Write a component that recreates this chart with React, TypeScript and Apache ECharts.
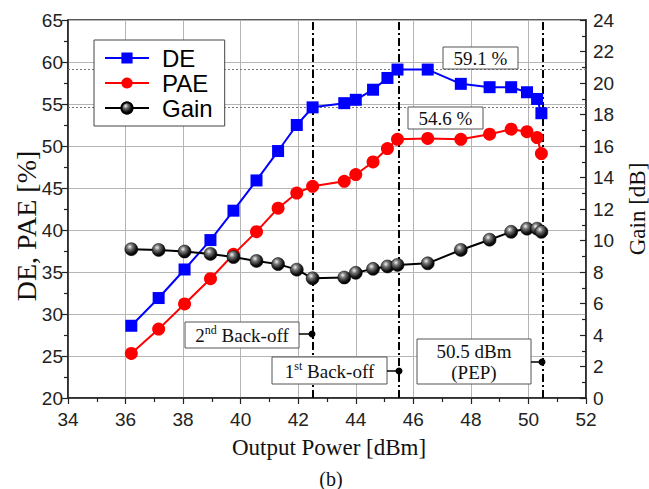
import React, { useEffect, useRef } from "react";
import * as echarts from "echarts";

const outputPower = [36.2, 37.15, 38.05, 38.95, 39.75, 40.55, 41.3, 41.95, 42.5, 43.6, 44.0, 44.6, 45.1, 45.45, 46.5, 47.65, 48.65, 49.4, 49.95, 50.3, 50.45];
const deValues = [28.6, 31.9, 35.3, 38.8, 42.3, 45.9, 49.4, 52.5, 54.6, 55.1, 55.5, 56.7, 58.1, 59.1, 59.1, 57.4, 57.0, 57.0, 56.4, 55.6, 53.9];
const paeValues = [25.3, 28.2, 31.2, 34.2, 37.1, 39.8, 42.6, 44.4, 45.2, 45.8, 46.6, 48.1, 49.7, 50.8, 50.9, 50.8, 51.4, 52.0, 51.7, 51.0, 49.1];
const gainValues = [9.45, 9.4, 9.3, 9.15, 8.95, 8.7, 8.5, 8.15, 7.6, 7.65, 7.95, 8.2, 8.35, 8.45, 8.55, 9.4, 10.05, 10.55, 10.75, 10.75, 10.55];
const backOffLines = [42.5, 45.5, 50.5];
const efficiencyMarks = [59.1, 54.6];

const SANS = "'Liberation Sans', Arial, sans-serif";
const SERIF = "'Liberation Serif', 'Times New Roman', serif";

function pairs(ys: number[]) {
  return outputPower.map((x, i) => [x, ys[i]]);
}

function box(x: number, y: number, w: number, h: number) {
  return {
    type: "rect",
    shape: { x, y, width: w, height: h },
    style: { fill: "#fff", stroke: "#555", lineWidth: 1 },
    z: 100,
  };
}

function connector(x1: number, x2: number, y: number) {
  return [
    { type: "line", shape: { x1, y1: y, x2, y2: y }, style: { stroke: "#000", lineWidth: 1.5 }, z: 100 },
    { type: "circle", shape: { cx: x2, cy: y, r: 3.5 }, style: { fill: "#000" }, z: 101 },
  ];
}

function txt(text: string, x: number, y: number, size: number, extra: any = {}) {
  return {
    type: "text",
    x,
    y,
    z: 102,
    style: { text, fontFamily: SERIF, fontSize: size, fill: "#111", align: "center", verticalAlign: "middle", ...extra },
  };
}

export default function App() {
  const ref = useRef<HTMLDivElement>(null);
  useEffect(() => {
    if (!ref.current) return;
    const chart = echarts.init(ref.current, undefined, { renderer: "svg" });
    const sphere = new echarts.graphic.RadialGradient(0.38, 0.32, 0.7, [
      { offset: 0, color: "#f4f4f4" },
      { offset: 0.3, color: "#777" },
      { offset: 0.75, color: "#111" },
      { offset: 1, color: "#000" },
    ]);
    const supRich = {
      a: { fontFamily: SERIF, fontSize: 19, fill: "#111", lineHeight: 22 },
      s: { fontFamily: SERIF, fontSize: 12, fill: "#111", lineHeight: 22, verticalAlign: "top", padding: [0, 0, 8, 0] },
    };
    const tickLabel = { fontFamily: SANS, fontSize: 19, color: "#222" };
    chart.setOption({
      animation: false,
      backgroundColor: "#fff",
      grid: {
        left: 68,
        right: 63,
        top: 20,
        bottom: 91,
        show: true,
        borderColor: "#222",
        borderWidth: 1.5,
        outerBoundsMode: "none",
      },
      legend: {
        orient: "vertical",
        left: 94,
        top: 40,
        padding: [6, 12, 6, 10],
        itemGap: 1,
        itemWidth: 44,
        itemHeight: 14,
        borderColor: "#444",
        borderWidth: 1,
        backgroundColor: "#fff",
        textStyle: { fontFamily: SANS, fontSize: 24, color: "#000", lineHeight: 24, padding: [0, 0, 0, 8] },
        data: ["DE", "PAE", "Gain"],
        z: 20,
      },
      xAxis: {
        type: "value",
        min: 34,
        max: 52,
        interval: 2,
        axisLine: { show: true, lineStyle: { color: "#222", width: 1.5 } },
        axisTick: { show: true, length: 6, lineStyle: { color: "#222", width: 1.2 } },
        minorTick: { show: true, splitNumber: 2, length: 4, lineStyle: { color: "#222", width: 1.2 } },
        splitLine: { show: true, lineStyle: { color: "#b5b5b5", width: 1 } },
        axisLabel: { ...tickLabel, margin: 12 },
      },
      yAxis: [
        {
          type: "value",
          min: 20,
          max: 65,
          interval: 5,
          axisLine: { show: true, lineStyle: { color: "#222", width: 1.5 } },
          axisTick: { show: true, length: 6, lineStyle: { color: "#222", width: 1.2 } },
          minorTick: { show: true, splitNumber: 2, length: 4, lineStyle: { color: "#222", width: 1.2 } },
          splitLine: { show: true, lineStyle: { color: "#b5b5b5", width: 1 } },
          axisLabel: { ...tickLabel, margin: 5 },
        },
        {
          type: "value",
          min: 0,
          max: 24,
          interval: 2,
          position: "right",
          axisLine: { show: true, lineStyle: { color: "#222", width: 1.5 } },
          axisTick: { show: true, inside: true, length: 6, lineStyle: { color: "#222", width: 1.2 } },
          minorTick: { show: true, splitNumber: 2, length: 4, lineStyle: { color: "#222", width: 1.2 } },
          splitLine: { show: false },
          axisLabel: { ...tickLabel, margin: 7 },
        },
      ],
      series: [
        {
          name: "DE",
          type: "line",
          yAxisIndex: 0,
          data: pairs(deValues),
          symbol: "rect",
          symbolSize: 12,
          lineStyle: { color: "#0000ff", width: 2 },
          itemStyle: { color: "#0000ff" },
          z: 5,
          markLine: {
            silent: true,
            symbol: "none",
            label: { show: false },
            z: 3,
            data: [
              ...backOffLines.map((v) => ({
                xAxis: v,
                lineStyle: { color: "#000", width: 2, type: [8, 3, 2, 3] },
              })),
              ...efficiencyMarks.map((v) => ({
                yAxis: v,
                lineStyle: { color: "#777", width: 1, type: [2, 2] },
              })),
            ],
          },
        },
        {
          name: "PAE",
          type: "line",
          yAxisIndex: 0,
          data: pairs(paeValues),
          symbol: "circle",
          symbolSize: 13,
          lineStyle: { color: "#ff0000", width: 2 },
          itemStyle: { color: "#ff0000" },
          z: 5,
        },
        {
          name: "Gain",
          type: "line",
          yAxisIndex: 1,
          data: pairs(gainValues),
          symbol: "circle",
          symbolSize: 13,
          lineStyle: { color: "#000", width: 2 },
          itemStyle: { color: sphere, borderColor: "#000", borderWidth: 0.5 },
          z: 5,
        },
      ],
      graphic: [
        txt("Output Power [dBm]", 329, 447, 23),
        txt("(b)", 331, 479, 20),
        { ...txt("DE, PAE [%]", 26, 226, 28), rotation: Math.PI / 2 },
        { ...txt("Gain [dB]", 637, 209, 23), rotation: Math.PI / 2 },
        box(443, 47, 75, 22),
        txt("59.1 %", 480.5, 58.5, 19),
        box(408, 107, 75, 22),
        txt("54.6 %", 445.5, 118.5, 19),
        box(185, 322, 114, 26),
        ...connector(299, 312, 334),
        {
          type: "text",
          x: 242,
          y: 335,
          z: 102,
          style: { text: "{a|2}{s|nd}{a| Back-off}", rich: supRich, align: "center", verticalAlign: "middle" },
        },
        box(272, 357, 115, 27),
        ...connector(387, 399, 371),
        {
          type: "text",
          x: 329.5,
          y: 371,
          z: 102,
          style: { text: "{a|1}{s|st}{a| Back-off}", rich: supRich, align: "center", verticalAlign: "middle" },
        },
        box(417, 339, 114, 45),
        ...connector(531, 542, 362),
        txt("50.5 dBm", 474, 351, 19),
        txt("(PEP)", 474, 372, 19),
      ],
    });
    return () => chart.dispose();
  }, []);
  return <div ref={ref} style={{ width: 649, height: 489, position: "absolute", left: 0, top: 0 }} />;
}
